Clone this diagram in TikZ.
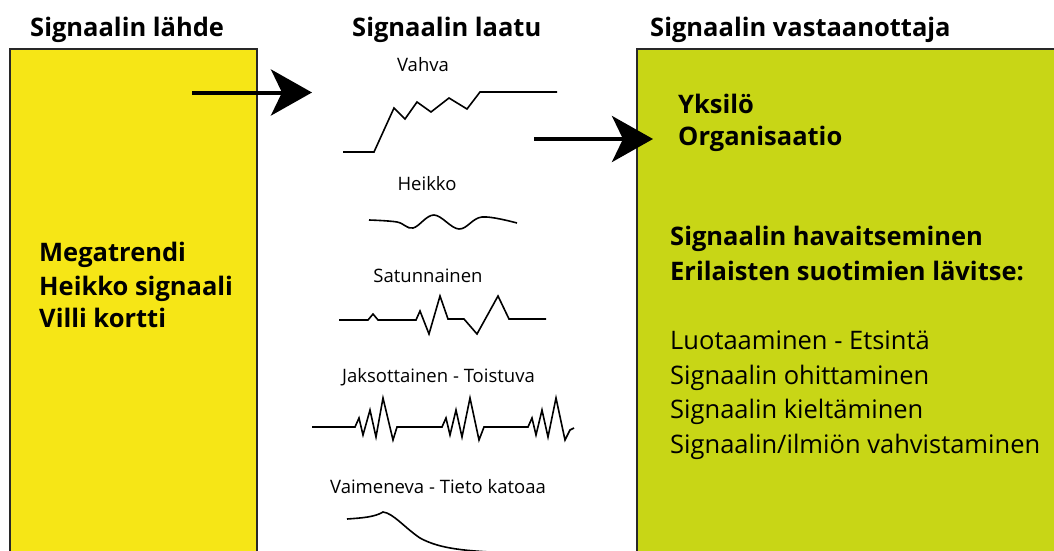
\documentclass[tikz,border=0pt]{standalone}
\usepackage{fontspec}
\setmainfont{Open Sans}
\usetikzlibrary{arrows.meta}
\definecolor{srcyellow}{RGB}{246,230,22}
\definecolor{rcvlime}{RGB}{200,214,22}
\definecolor{edgegray}{RGB}{40,40,40}
\tikzset{
  heading/.style={anchor=base west, font=\fontsize{25.5}{30}\selectfont\bfseries, inner sep=0pt},
  boxtext/.style={anchor=base west, font=\fontsize{25.5}{30}\selectfont\bfseries, inner sep=0pt},
  listtext/.style={anchor=base west, font=\fontsize{25.5}{30}\selectfont, inner sep=0pt},
  siglabel/.style={anchor=base, font=\fontsize{18.5}{22}\selectfont, inner sep=0pt},
  signal/.style={line width=1.6pt, line join=miter},
  bigarrow/.style={line width=4pt, -{Stealth[length=41pt, width=46pt, inset=11pt]}},
  panel/.style={draw=edgegray, line width=1.6pt}
}
\begin{document}
\begin{tikzpicture}[x=1pt, y=-1pt]
\useasboundingbox (0,0) rectangle (1054,551);
\clip (0,0) rectangle (1054,551);

% source and receiver panels
\draw[panel, fill=srcyellow] (10,49) rectangle (257,570);
\draw[panel, fill=rcvlime] (637,49) rectangle (1070,570);

% column headings
\node[heading] (hsrc) at (30,37) {Signaalin lähde};
\node[heading] (hqual) at (352,37) {Signaalin laatu};
\node[heading] (hrcv) at (650,37) {Signaalin vastaanottaja};

% source panel text
\node[boxtext] (src1) at (39,261) {Megatrendi};
\node[boxtext] (src2) at (39,295) {Heikko signaali};
\node[boxtext] (src3) at (39,327) {Villi kortti};

% receiver panel text
\node[boxtext] (rcv1) at (678,113) {Yksilö};
\node[boxtext] (rcv2) at (678,145) {Organisaatio};
\node[boxtext] (rcv3) at (670,245) {Signaalin havaitseminen};
\node[boxtext] (rcv4) at (670,280) {Erilaisten suotimien lävitse:};
\node[listtext] (lst1) at (670,349) {Luotaaminen - Etsintä};
\node[listtext] (lst2) at (670,384) {Signaalin ohittaminen};
\node[listtext] (lst3) at (670,418) {Signaalin kieltäminen};
\node[listtext] (lst4) at (670,453) {Signaalin/ilmiön vahvistaminen};

% arrows from source to quality, and from quality to receiver
\coordinate (a1s) at (192,92.5);
\coordinate (a1e) at (312,92.5);
\coordinate (a2s) at (534,139);
\coordinate (a2e) at (653,139);
\draw[bigarrow] (a1s) -- (a1e);
\draw[bigarrow] (a2s) -- (a2e);

% signal types
\node[siglabel] (lv) at (423,71) {Vahva};
\draw[signal] (343,152) -- (374,152) -- (394,108) -- (405,119) -- (417,102)
  -- (431,112) -- (449,98) -- (467,109) -- (480,92) -- (557,92);

\node[siglabel] (lh) at (427,190) {Heikko};
\draw[signal] plot[smooth, tension=0.6] coordinates {(369,220) (397,222) (413,228)
  (434,215) (459,229) (482,217) (517,223)};

\node[siglabel] (ls) at (428,282) {Satunnainen};
\draw[signal] (339,320) -- (368,320) -- (373,314) -- (378,320) -- (416,320)
  -- (420,311) -- (429,334) -- (440,296) -- (448,319) -- (464,319)
  -- (477,334) -- (498,296) -- (509,319) -- (546,319);

\node[siglabel] (lj) at (438.5,382) {Jaksottainen - Toistuva};
\draw[signal] (312,427) -- (355,427)
  -- (359,418) -- (363,435) -- (370,410) -- (376,437) -- (383,398) -- (393,440) -- (397,427)
  -- (442,427)
  -- (446,418) -- (450,435) -- (456,410) -- (462,437) -- (470,398) -- (479,440) -- (484,427)
  -- (528,427)
  -- (532,418) -- (536,435) -- (542,410) -- (548,437) -- (556,398) -- (565,440) -- (570,430) -- (574,428);

\node[siglabel] (lva) at (438,493) {Vaimeneva - Tieto katoaa};
\draw[signal] (347,519) .. controls (362,518) and (375,517) .. (383,512)
  .. controls (393,513) and (405,528) .. (420,538)
  .. controls (440,549) and (465,551) .. (510,553);
\end{tikzpicture}
\end{document}
